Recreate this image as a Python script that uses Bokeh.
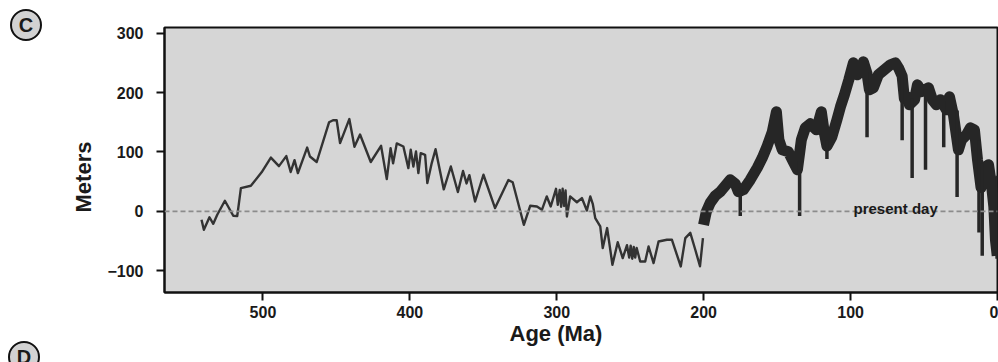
from bokeh.plotting import figure
from bokeh.layouts import row
from bokeh.models import Range1d, FixedTicker, Span, Label, Title, Div
from bokeh.embed import file_html
from bokeh.resources import INLINE

# ---- data ----
x_ticks = [500, 400, 300, 200, 100, 0]
y_ticks = [-100, 0, 100, 200, 300]

# Paleozoic / early Mesozoic curve (thin line)
paleo_age = [541.8, 540.2, 536.4, 533.8, 531.1, 525.9, 520.2, 517.5, 515.0, 508.2,
             500.9, 494.6, 489.1, 484.1, 481.1, 478.5, 476.2, 469.9, 468.0, 463.4,
             455.0, 452.3, 449.8, 447.5, 441.2, 437.7, 433.9, 426.6, 419.6, 415.7,
             413.1, 411.4, 408.9, 404.4, 401.0, 399.4, 397.6, 395.8, 394.2, 392.6,
             389.6, 388.1, 385.1, 382.5, 376.9, 372.1, 367.3, 363.8, 361.4, 359.5,
             355.6, 349.9, 342.0, 332.9, 330.0, 322.4, 318.1, 313.5, 310.1, 306.8,
             304.1, 300.5, 299.3, 298.0, 297.0, 296.0, 295.0, 294.0, 293.1, 290.9,
             286.3, 282.9, 279.5, 277.2, 275.5, 273.8, 270.4, 268.7, 265.7, 262.1,
             258.5, 255.1, 252.2, 250.7, 249.7, 248.6, 247.6, 246.6, 245.6, 243.2,
             239.8, 237.5, 234.1, 230.7, 225.0, 221.6, 215.6, 212.5, 209.1, 205.7,
             202.5, 200.5]
paleo_m = [-14.3, -31.2, -10.1, -21.1, -5.9, 17.7, -7.6, -8.1, 39.1, 43.0,
           65.8, 90.6, 76.2, 93.1, 66.3, 86.3, 64.4, 107.4, 92.4, 83.1,
           150.1, 153.5, 153.5, 115.0, 155.5, 108.8, 129.5, 83.1, 110.5, 54.3,
           106.6, 80.8, 114.5, 109.3, 72.8, 103.7, 75.5, 100.8, 64.4, 98.1,
           95.3, 47.6, 81.3, 104.6, 36.9, 75.5, 32.5, 68.0, 47.0, 61.0,
           16.5, 61.6, 5.4, 52.6, 48.9, -22.8, 9.3, 8.1, 2.5, 25.0,
           8.1, 37.9, 11.0, 36.0, 7.6, 38.0, 9.0, 35.0, -8.8, 25.0,
           15.2, 22.3, 1.2, 25.0, 12.6, -11.5, -25.6, -62.1, -28.3, -90.2,
           -52.3, -78.9, -57.3, -78.0, -58.0, -80.0, -60.0, -78.0, -62.0, -84.7,
           -84.7, -59.4, -87.4, -50.9, -48.1, -48.1, -93.1, -45.2, -36.3, -64.9,
           -92.7, -45.2]

# Mesozoic-Cenozoic high-resolution band (centre of the dense trace)
band_age = [200.1, 198.2, 195.5, 192.1, 188.7, 185.3, 181.9, 178.5, 176.4, 173.0,
            168.3, 163.5, 160.1, 156.7, 153.3, 150.5, 148.8, 146.5, 142.4, 139.0,
            136.2, 133.5, 130.8, 127.4, 123.3, 119.9, 117.9, 116.1, 112.7, 109.3,
            106.9, 104.2, 101.2, 98.1, 95.4, 93.3, 91.3, 88.8, 87.2, 84.5,
            81.1, 77.0, 72.9, 69.5, 67.4, 64.9, 63.4, 61.3, 60.0, 56.5,
            54.5, 51.8, 47.0, 44.3, 41.6, 38.8, 34.7, 32.7, 30.0, 26.6,
            24.5, 21.1, 18.4, 15.7, 13.6, 11.2, 8.9, 6.1, 4.1, 2.5,
            1.4, 0.2]
band_m = [-22.8, -0.8, 14.3, 26.1, 32.9, 43.0, 53.1, 46.4, 32.9, 36.3,
          53.1, 73.4, 90.2, 110.5, 134.1, 167.8, 120.6, 103.7, 100.3, 83.5,
          70.0, 120.6, 140.8, 147.6, 137.4, 167.8, 132.4, 110.0, 125.6, 154.3,
          176.2, 196.5, 221.8, 250.4, 230.2, 238.6, 252.1, 232.0, 205.0, 208.3,
          230.2, 238.6, 247.0, 250.4, 242.0, 228.0, 190.0, 193.1, 179.6, 188.0,
          213.3, 201.5, 208.3, 188.0, 179.6, 188.0, 171.2, 193.1, 162.7, 103.7,
          120.6, 129.0, 140.8, 137.4, 86.8, 40.0, 73.4, 78.4, 44.7, 7.6,
          -48.1, -75.0]

# sharp downward spikes in the dense trace
spike_age = [175.1, 134.7, 116.1, 88.8, 64.9, 58.1, 49.0, 36.6, 27.5, 12.6, 10.4, 0.3]
spike_top = [40.0, 85.0, 120.0, 235.0, 230.0, 190.0, 205.0, 185.0, 170.0, 120.0, 80.0, 60.0]
spike_low = [-8.0, -8.0, 88.0, 125.0, 120.0, 56.0, 70.0, 108.0, 24.0, -36.0, -75.0, -80.0]

panel_letters = ["C", "D"]
y_title = "Meters"
x_title = "Age (Ma)"

SIDE_W = 100
H = 362
FONT = "Liberation Sans"
INK = "#1a1a1a"

# ---- left strip: panel letters and the y-axis title (HTML text) ----
circle_css = ("position:absolute;box-sizing:border-box;width:32px;height:32px;"
              "border:2.2px solid #111;border-radius:50%;background:#d2d2d2;"
              "font-size:20px;line-height:28px;text-align:center;")
side_html = (
    f'<div style="position:relative;width:{SIDE_W}px;height:{H}px;overflow:hidden;'
    f'font-family:\'{FONT}\';font-weight:bold;color:{INK};">'
    f'<div style="{circle_css}left:10px;top:9px;">{panel_letters[0]}</div>'
    f'<div style="{circle_css}left:8px;top:341px;">{panel_letters[1]}</div>'
    f'<div style="position:absolute;left:84px;top:177px;font-size:22px;'
    f'white-space:nowrap;transform:translate(-50%,-50%) rotate(-90deg);">{y_title}</div>'
    f'</div>'
)
side = Div(text=side_html, width=SIDE_W, height=H, margin=0)

# ---- main chart ----
p = figure(width=998 - SIDE_W, height=H, output_backend="svg", toolbar_location=None,
           x_range=Range1d(567, 0), y_range=Range1d(-137, 310),
           min_border_left=164 - SIDE_W, min_border_right=1, min_border_top=27,
           min_border_bottom=70, margin=0)
p.background_fill_color = "#d6d6d6"
p.border_fill_color = "white"
p.outline_line_color = "#111111"
p.outline_line_width = 2
p.grid.visible = False

for ax in (p.xaxis[0], p.yaxis[0]):
    ax.axis_line_color = "#111111"
    ax.axis_line_width = 2
    ax.major_tick_line_color = "#111111"
    ax.major_tick_line_width = 2
    ax.major_tick_out = 8
    ax.major_tick_in = 0
    ax.minor_tick_line_color = None
    ax.major_label_text_font = FONT
    ax.major_label_text_font_style = "bold"
    ax.major_label_text_font_size = "16px"
    ax.major_label_text_color = INK

p.xaxis.ticker = FixedTicker(ticks=x_ticks)
p.yaxis.ticker = FixedTicker(ticks=y_ticks)
p.xaxis.major_label_standoff = 5
p.yaxis.major_label_standoff = 13

# x-axis title (sits a little left of the frame centre, as in the original)
p.add_layout(Title(text=x_title, align="left", offset=345, standoff=0,
                   vertical_align="top", text_font=FONT, text_font_style="bold",
                   text_font_size="22px", text_color=INK), "below")

p.add_layout(Span(location=0, dimension="width", line_color="#8c8c8c",
                  line_dash="5 3", line_width=1.8))

p.line(paleo_age, paleo_m, line_color="#333333", line_width=2.4, line_join="round")
p.line(band_age, band_m, line_color="#262626", line_width=11, line_join="round")
p.segment(x0=spike_age, y0=spike_top, x1=spike_age, y1=spike_low,
          line_color="#262626", line_width=3.5)

p.add_layout(Label(x=98, y=5, text="present day", text_font=FONT,
                   text_font_style="bold", text_font_size="15px",
                   text_color=INK, text_baseline="alphabetic"))

layout = row(side, p, spacing=0)
open("out.html", "w").write(file_html(layout, INLINE))
